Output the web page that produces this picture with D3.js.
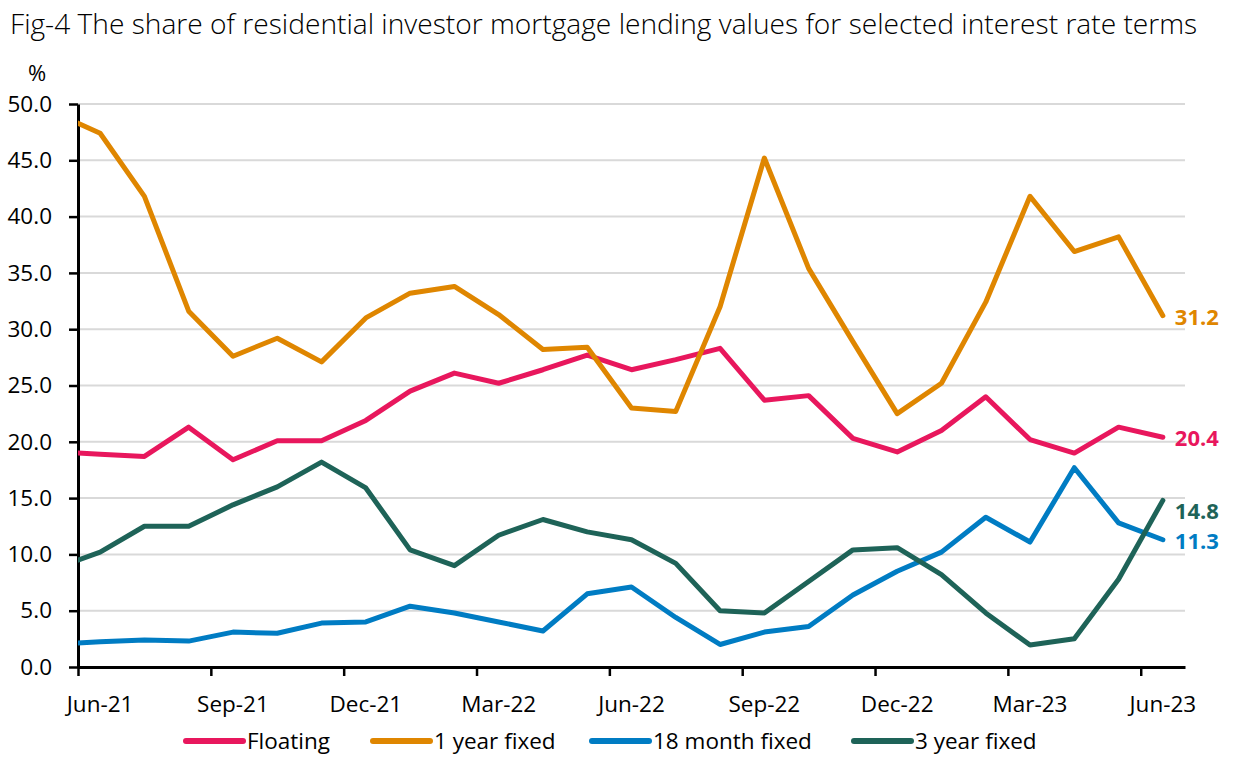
<!DOCTYPE html>
<html><head><meta charset="utf-8">
<script src="https://cdn.jsdelivr.net/npm/d3@7"></script>
<style>body{margin:0;background:#fff}svg{display:block}</style>
</head><body><svg id="c" width="1233" height="763"></svg>
<script>
const months = ["May-21","Jun-21","Jul-21","Aug-21","Sep-21","Oct-21","Nov-21","Dec-21",
  "Jan-22","Feb-22","Mar-22","Apr-22","May-22","Jun-22","Jul-22","Aug-22","Sep-22","Oct-22","Nov-22","Dec-22",
  "Jan-23","Feb-23","Mar-23","Apr-23","May-23","Jun-23"];
const floating      = [19.1,18.9,18.7,21.3,18.4,20.1,20.1,21.9,24.5,26.1,25.2,26.4,27.7,26.4,27.3,28.3,23.7,24.1,20.3,19.1,21.0,24.0,20.2,19.0,21.3,20.4];
const oneYearFixed  = [49.2,47.4,41.8,31.6,27.6,29.2,27.1,31.0,33.2,33.8,31.3,28.2,28.4,23.0,22.7,32.0,45.2,35.4,28.9,22.5,25.2,32.4,41.8,36.9,38.2,31.2];
const eighteenMonth = [2.0,2.25,2.4,2.3,3.1,3.0,3.9,4.0,5.4,4.8,4.0,3.2,6.5,7.1,4.4,2.0,3.1,3.6,6.4,8.5,10.2,13.3,11.1,17.7,12.8,11.3];
const threeYearFixed= [8.8,10.2,12.5,12.5,14.4,16.0,18.2,15.9,10.4,9.0,11.7,13.1,12.0,11.3,9.2,5.0,4.8,7.6,10.4,10.6,8.2,4.8,1.95,2.5,7.8,14.8];
const seriesNames = ["Floating","1 year fixed","18 month fixed","3 year fixed"];
const seriesColors = ["#E8175D","#DF8600","#007CC3","#1E6358"];
const yTicks = [0,5,10,15,20,25,30,35,40,45,50];
const xTickLabels = ["Jun-21","Sep-21","Dec-21","Mar-22","Jun-22","Sep-22","Dec-22","Mar-23","Jun-23"];

const series = [floating, oneYearFixed, eighteenMonth, threeYearFixed].map((v,i)=>({name:seriesNames[i], color:seriesColors[i], values:v}));

const svg = d3.select("#c");
const L = 78, R = 1185, T = 104, B = 667;
const x = d3.scaleLinear().domain([0.5, months.length - 0.5]).range([L, R]);
const y = d3.scaleLinear().domain([0, 50]).range([B, T]);
const FONT = "'Open Sans', 'Noto Sans', sans-serif";

// title
const title = svg.append("text").attr("x", 10).attr("y", 34)
  .attr("font-family", FONT).attr("font-weight", 300).attr("font-size", 27).attr("fill", "#000")
  .text("Fig-4 The share of residential investor mortgage lending values for selected interest rate terms");
{
  const w = title.node().getComputedTextLength();
  title.attr("font-size", 27 * 1188 / w);
}
svg.append("text").attr("x", 37).attr("y", 81).attr("text-anchor", "middle")
  .attr("font-family", FONT).attr("font-size", 22).text("%");

// gridlines
svg.append("g").selectAll("line").data(yTicks.filter(d => d > 0)).join("line")
  .attr("x1", L).attr("x2", R).attr("y1", d => y(d)).attr("y2", d => y(d))
  .attr("stroke", "#D9D9D9").attr("stroke-width", 2);

// y axis
const ya = svg.append("g").attr("transform", `translate(${L},0)`)
  .call(d3.axisLeft(y).tickValues(yTicks).tickFormat(d3.format(".1f")).tickSize(9).tickSizeOuter(0).tickPadding(17));
ya.select(".domain").attr("stroke", "#000").attr("stroke-width", 3);
ya.selectAll(".tick line").attr("stroke", "#000").attr("stroke-width", 2.5);
ya.selectAll("text").attr("font-family", FONT).attr("font-size", 22.5).attr("fill", "#000");

// x axis
const boundaries = d3.range(0.5, months.length - 0.5, 3);
const xa = svg.append("g").attr("transform", `translate(0,${B})`)
  .call(d3.axisBottom(x).tickValues(boundaries).tickFormat("").tickSize(9).tickSizeOuter(0));
xa.select(".domain").attr("stroke", "#000").attr("stroke-width", 3);
xa.selectAll(".tick line").attr("stroke", "#000").attr("stroke-width", 2.5);
svg.append("g").selectAll("text").data(xTickLabels).join("text")
  .attr("x", d => x(months.indexOf(d))).attr("y", B + 45).attr("text-anchor", "middle")
  .attr("font-family", FONT).attr("font-size", 22.5).attr("fill", "#000").text(d => d);

// lines
svg.append("clipPath").attr("id", "clip").append("rect")
  .attr("x", L).attr("y", 0).attr("width", R - L).attr("height", 763);
const line = d3.line().x((d, i) => x(i)).y(d => y(d));
svg.append("g").attr("clip-path", "url(#clip)").selectAll("path").data(series).join("path")
  .attr("d", d => line(d.values)).attr("fill", "none").attr("stroke", d => d.color)
  .attr("stroke-width", 5).attr("stroke-linejoin", "round").attr("stroke-linecap", "round");

// end labels
const endOffset = {"Floating": 1, "1 year fixed": 2, "18 month fixed": 2, "3 year fixed": 11};
svg.append("g").selectAll("text").data(series).join("text")
  .attr("x", x(months.length - 1) + 12)
  .attr("y", d => y(d.values[d.values.length - 1]) + endOffset[d.name])
  .attr("dy", "0.35em").attr("font-family", FONT).attr("font-weight", 700).attr("font-size", 22)
  .attr("fill", d => d.color).text(d => d3.format(".1f")(d.values[d.values.length - 1]));

// legend
const legendX = [186, 373, 592, 854];
const lg = svg.append("g").selectAll("g").data(series).join("g")
  .attr("transform", (d, i) => `translate(${legendX[i]},741)`);
lg.append("line").attr("x1", 0).attr("x2", 57).attr("stroke", d => d.color)
  .attr("stroke-width", 6).attr("stroke-linecap", "round");
lg.append("text").attr("x", 61).attr("dy", "0.35em").attr("font-family", FONT).attr("font-size", 22.5)
  .attr("fill", "#000").text(d => d.name);
</script></body></html>
